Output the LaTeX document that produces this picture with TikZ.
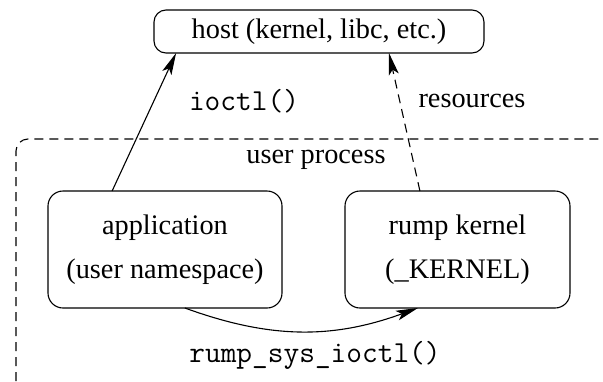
\documentclass[tikz,border=0pt]{standalone}
\usepackage{fontspec}
\setmainfont{Liberation Serif}
\usetikzlibrary{calc,arrows.meta}
\begin{document}
\begin{tikzpicture}[x=1pt,y=-1pt,
  box/.style={draw,rounded corners=15pt,line width=1.1pt,outer sep=0pt,align=center,inner sep=0pt},
  lbl/.style={font=\fontsize{28.3}{44}\selectfont},
  mono/.style={font=\fontsize{30.5}{34}\ttfamily},
  arr/.style={-{Stealth[length=22pt,width=10pt,inset=5pt]},line width=1.1pt},
  dsh/.style={dash pattern=on 9pt off 6pt}]
\useasboundingbox (0,0) rectangle (603,381);
\node[box,rounded corners=12pt,minimum width=330pt,minimum height=43pt,lbl] (host) at (319,31.5) {host (kernel, libc, etc.)};
\node[box,minimum width=234pt,minimum height=117pt,lbl] (app) at (165,249.5) {application\\(user namespace)};
\node[box,minimum width=225pt,minimum height=117pt,lbl] (rump) at (457.5,249.5) {rump kernel\\(\_KERNEL)};
\coordinate (ubl) at (16,381);
\coordinate (utr) at (603,139);
\draw[dsh,line width=1.1pt,rounded corners=12pt] (ubl) |- (utr);
\node[lbl] (up) at (316,160) {user process};
\draw[arr] ($(app.north west)!0.274!(app.north east)$) -- ($(host.south west)!0.067!(host.south east)$);
\draw[arr,dsh] ($(rump.north west)!0.333!(rump.north east)$) -- ($(host.south west)!0.712!(host.south east)$);
\node[mono] (ioctl) at (244,101) {ioctl()};
\node[lbl] (res) at (472,101) {resources};
\draw[arr] ($(app.south west)!0.585!(app.south east)$) to[bend right=20] ($(rump.south west)!0.324!(rump.south east)$);
\node[mono] (rsi) at (315,355) {rump\_sys\_ioctl()};
\end{tikzpicture}
\end{document}
